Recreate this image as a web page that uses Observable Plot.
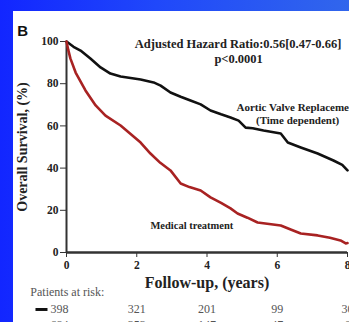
<!DOCTYPE html>
<html>
<head>
<meta charset="utf-8">
<script src="https://cdn.jsdelivr.net/npm/d3@7"></script>
<script src="https://cdn.jsdelivr.net/npm/@observablehq/plot@0.6"></script>
<style>
  html, body { margin: 0; padding: 0; overflow: hidden; }
  body { width: 349px; height: 322px; background: linear-gradient(90deg, #1226ff 0%, #2048fa 45%, #3166ec 100%); position: relative; }
  #panel { position: absolute; left: 13px; top: 11px; right: 0; bottom: 0; background: #fff; }
  #chart { position: absolute; left: 0; top: 0; }
</style>
</head>
<body>
<div id="panel"></div>
<div id="chart"></div>
<script>
// Kaplan-Meier survival, aortic valve replacement (time dependent) vs medical treatment
const avrTime = [0, 0.2, 0.4, 0.68, 0.97, 1.25, 1.54, 2.11, 2.48, 2.68, 2.96, 3.25, 3.53, 3.82, 4.1, 4.4, 4.67, 4.9, 5.1, 5.3, 5.61, 6.1, 6.3, 6.67, 7.15, 7.6, 7.85, 8.0];
const avrSurv = [100, 97.5, 95.7, 91.9, 87.7, 84.8, 83.4, 82.0, 80.6, 79.1, 75.8, 73.8, 72.0, 70.2, 67.3, 65.5, 64.0, 62.5, 59.2, 58.9, 57.8, 56.4, 52.1, 49.8, 46.9, 43.6, 41.5, 38.9];

const medTime = [0, 0.05, 0.11, 0.26, 0.54, 0.83, 1.11, 1.54, 1.8, 2.11, 2.39, 2.67, 2.96, 3.25, 3.5, 3.82, 4.1, 4.4, 4.67, 4.87, 5.15, 5.44, 6.1, 6.4, 6.67, 7.15, 7.5, 7.8, 7.95, 8.0];
const medSurv = [100, 96, 92, 85.3, 76.8, 69.7, 64.9, 60.2, 56.5, 52.1, 46.9, 42.5, 38.9, 32.7, 31.0, 29.4, 26.1, 23.5, 20.9, 18.5, 16.5, 14.2, 12.8, 10.8, 9.0, 8.1, 7.0, 5.7, 4.3, 4.5];

// Patients at risk table
const riskYears = [0, 2, 4, 6, 8];
const riskAVR = [398, 321, 201, 99, 30];
const riskMed = [684, 353, 147, 47, 6];

const xTicks = [0, 2, 4, 6, 8];
const yTicks = [0, 20, 40, 60, 80, 100];

const avr = avrTime.map((t, i) => ({t, s: avrSurv[i]}));
const med = medTime.map((t, i) => ({t, s: medSurv[i]}));

const black = "#111";
const red = "#a82222";
const axisColor = "#333";
const ink = "#222";
const serif = "'Liberation Serif', 'Times New Roman', serif";

const riskCols = riskYears.map((t, i) => ({t, avr: riskAVR[i], med: riskMed[i]}));
const firstCol = riskCols.slice(0, 1);
const otherCols = riskCols.slice(1);

const riskText = {frameAnchor: "bottom", lineAnchor: "middle", fontFamily: serif, fontSize: 12, fontWeight: "normal", fill: "#555"};

const chart = Plot.plot({
  width: 349,
  height: 322,
  marginLeft: 66,
  marginRight: 2,
  marginTop: 41,
  marginBottom: 70,
  style: {background: "transparent", fontFamily: serif, fontSize: "11.5px", fontWeight: "bold", color: ink},
  x: {domain: [0, 8]},
  y: {domain: [0, 100]},
  marks: [
    Plot.axisY(yTicks, {label: null, tickSize: 6, tickPadding: 2, stroke: axisColor, fill: ink, fontWeight: "bold"}),
    Plot.axisX(xTicks, {label: null, tickSize: 5, tickPadding: 3, stroke: axisColor, fill: ink, fontWeight: "bold"}),
    Plot.ruleX([0], {y1: 0, y2: 100, stroke: axisColor, strokeWidth: 2}),
    Plot.ruleY([0], {x1: 0, x2: 8, stroke: axisColor, strokeWidth: 2.5}),
    Plot.line(avr, {x: "t", y: "s", stroke: black, strokeWidth: 2.6}),
    Plot.line(med, {x: "t", y: "s", stroke: red, strokeWidth: 2.6}),
    // axis titles
    Plot.text(["Overall Survival, (%)"], {frameAnchor: "left", textAnchor: "middle", lineAnchor: "middle", dx: -44, dy: 0, rotate: -90, fontSize: 14, fontWeight: "bold", fill: ink}),
    Plot.text(["Follow-up, (years)"], {frameAnchor: "bottom", lineAnchor: "middle", dy: 30, fontSize: 16, fontWeight: "bold", fill: ink}),
    // panel letter
    Plot.text(["B"], {x: -1.25, y: 104.7, fontFamily: "'Liberation Sans', Arial, sans-serif", fontSize: 15, fontWeight: "bold", fill: "#111"}),
    // hazard ratio annotation
    Plot.text(["Adjusted Hazard Ratio:0.56[0.47-0.66]"], {x: 4.886, y: 98.6, fontSize: 12.5, fontWeight: "bold", fill: ink}),
    Plot.text(["p<0.0001"], {x: 4.9, y: 91.9, fontSize: 12.5, fontWeight: "bold", fill: ink}),
    // curve labels
    Plot.text(["Aortic Valve Replacement", "(Time dependent)"], {x: 6.58, y: (d, i) => i === 0 ? 68.7 : 62.6, fontSize: 11, fontWeight: "bold", fill: ink}),
    Plot.text(["Medical treatment"], {x: 3.57, y: 12.8, fontSize: 10.5, fontWeight: "bold", fill: ink}),
    // patients at risk
    Plot.text(["Patients at risk:"], {...riskText, x: -1.03, dy: 40, textAnchor: "start", fontSize: 12}),
    Plot.link([{x1: -0.883, x2: -0.541, y: -27.0}], {x1: "x1", x2: "x2", y1: "y", y2: "y", stroke: black, strokeWidth: 3}),
    Plot.link([{x1: -0.883, x2: -0.541, y: -34.6}], {x1: "x1", x2: "x2", y1: "y", y2: "y", stroke: red, strokeWidth: 3}),
    Plot.text(firstCol, {...riskText, x: "t", dx: -7, text: "avr", dy: 57}),
    Plot.text(firstCol, {...riskText, x: "t", dx: -7, text: "med", dy: 73}),
    Plot.text(otherCols, {...riskText, x: "t", text: "avr", dy: 57}),
    Plot.text(otherCols, {...riskText, x: "t", text: "med", dy: 73})
  ]
});
document.getElementById("chart").appendChild(chart);
</script>
</body>
</html>
